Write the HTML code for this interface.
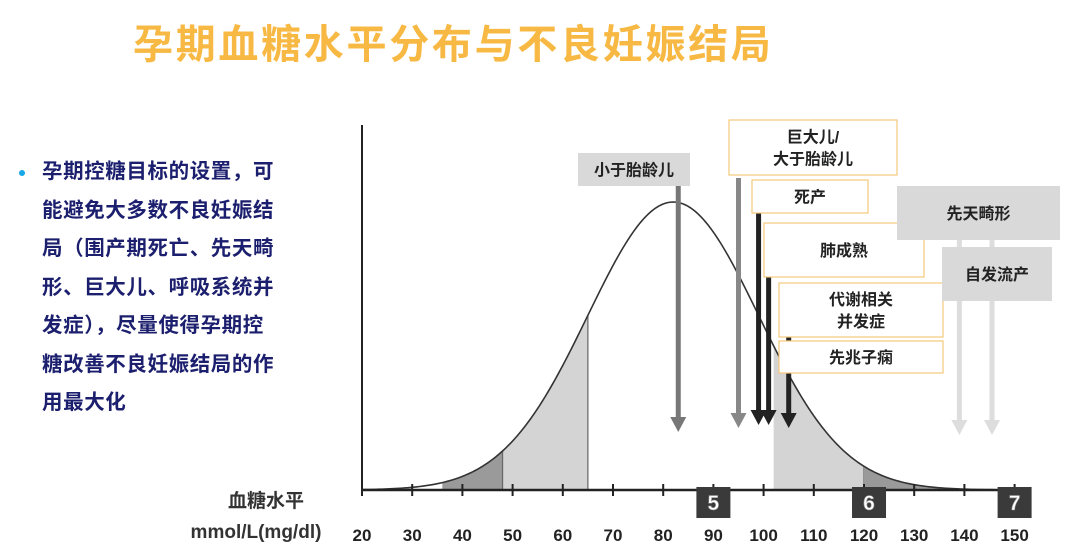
<!DOCTYPE html>
<html><head><meta charset="utf-8">
<style>
body{margin:0;width:1080px;height:557px;background:#fff;overflow:hidden;position:relative;font-family:"Liberation Sans","Noto Sans CJK SC",sans-serif}
#title{position:absolute;left:133px;top:12px;font-size:40px;font-weight:bold;color:#f7b944;letter-spacing:2.7px;white-space:nowrap;font-family:"Liberation Sans","Noto Sans CJK SC",sans-serif}
#bullet-text{position:absolute;left:42px;top:153px;width:260px;font-size:20.5px;line-height:38.5px;font-weight:bold;color:#1b1f6e;white-space:nowrap;letter-spacing:0.6px}
#dot{position:absolute;left:19px;top:170px;width:6px;height:6px;border-radius:3px;background:#18a8e8}
svg{position:absolute;left:0;top:0}
</style></head><body>
<div id="title">孕期血糖水平分布与不良妊娠结局</div>
<div id="dot"></div>
<div id="bullet-text">孕期控糖目标的设置，可<br>能避免大多数不良妊娠结<br>局（围产期死亡、先天畸<br>形、巨大儿、呼吸系统并<br>发症），尽量使得孕期控<br>糖改善不良妊娠结局的作<br>用最大化</div>
<svg id="chart" width="1080" height="557"></svg>
<script>
const ticks=[20,30,40,50,60,70,80,90,100,110,120,130,140,150];
const meanVal=82, sdVal=17;
const shadeDarkLeft=[36,48], shadeLightLeft=[48,65], shadeLightRight=[102,120], shadeDarkRight=[120,138];
const markers=["5","6","7"];
const markerVals=[90,121,150];
const outcomes=["小于胎龄儿","巨大儿/大于胎龄儿","死产","肺成熟","代谢相关并发症","先兆子痫","先天畸形","自发流产"];
const arrowVals=[83,95,99,101,105,139,145.5];

const NS="http://www.w3.org/2000/svg";
const svg=document.getElementById('chart');
const X0=362,Y0=490,PX=5.02,H=288;
const xs=v=>X0+(v-20)*PX;
const ys=v=>Y0-H*Math.exp(-((v-meanVal)**2)/(2*sdVal*sdVal));
function el(t,a,p){const e=document.createElementNS(NS,t);for(const k in a)e.setAttribute(k,a[k]);(p||svg).appendChild(e);return e;}
function area(r,fill,name){let d=`M${xs(r[0])},${Y0}`;for(let v=r[0];v<=r[1]+1e-6;v+=0.5)d+=`L${xs(v)},${ys(v)}`;d+=`L${xs(r[1])},${Y0}Z`;
 const e=el('path',{d,fill,stroke:'none'});
 el('line',{x1:xs(r[1]),x2:xs(r[1]),y1:Y0,y2:ys(r[1]),stroke:'#666','stroke-width':1.2});}
area(shadeLightLeft,'#d4d4d4','shade-light-left');
area(shadeDarkLeft,'#9a9a9a','shade-dark-left');
area(shadeLightRight,'#d4d4d4','shade-light-right');
area(shadeDarkRight,'#9a9a9a','shade-dark-right');
let d='';for(let v=20;v<=150;v+=0.5)d+=(d?'L':'M')+xs(v)+','+ys(v);
const curve=el('path',{d,fill:'none',stroke:'#333','stroke-width':1.6});


const ya=el('line',{x1:X0,x2:X0,y1:125,y2:Y0,stroke:'#222','stroke-width':2});

const xa=el('line',{x1:X0,x2:xs(152),y1:Y0,y2:Y0,stroke:'#222','stroke-width':2.5});

ticks.forEach(t=>{
 el('line',{x1:xs(t),x2:xs(t),y1:Y0-6,y2:Y0+6,stroke:'#222','stroke-width':2});
 const tx=el('text',{x:xs(t),y:541,'text-anchor':'middle','font-size':17,'font-weight':'bold',fill:'#222'});tx.textContent=t;
 
});
markers.forEach((m,i)=>{
 const c=xs(markerVals[i]);
 const g=el('g',{});
 el('rect',{x:c-17,y:487,width:34,height:31,fill:'#3a3a3a'},g);
 const t=el('text',{x:c,y:510,'text-anchor':'middle','font-size':21,'font-weight':'bold',fill:'#fff',stroke:'#888','stroke-width':0.6},g);t.textContent=m;
});
const arrowTop=[186,178,213,277,337,240,240];
const arrowCol=['#777','#888','#222','#222','#222','#ddd','#ddd'];
const arrowEnd=[432,428,425,425,428,435,435];
arrowVals.forEach((v,i)=>{
 const x=xs(v);const g=el('g',{});
 
 el('line',{x1:x,x2:x,y1:arrowTop[i],y2:arrowEnd[i]-12,stroke:arrowCol[i],'stroke-width':5},g);
 el('polygon',{points:`${x-8},${arrowEnd[i]-15} ${x+8},${arrowEnd[i]-15} ${x},${arrowEnd[i]}`,fill:arrowCol[i]},g);
});
const boxes=[[578,153,112,33,'#d9d9d9','none'],[729,120,168,55,'#fff','#f5c77a'],[752,180,116,33,'#fff','#f5c77a'],[764,223,160,54,'#fff','#f5c77a'],[779,283,164,54,'#fff','#f5c77a'],[779,341,164,32,'#fff','#f5c77a'],[897,186,163,54,'#d9d9d9','none'],[942,247,110,54,'#d9d9d9','none']];
outcomes.forEach((o,i)=>{
 const b=boxes[i];const g=el('g',{});
 
 el('rect',{x:b[0],y:b[1],width:b[2],height:b[3],fill:b[4],stroke:b[5],'stroke-width':1.2},g);
 let lines=[o];
 if(o==='巨大儿/大于胎龄儿')lines=['巨大儿/','大于胎龄儿'];
 if(o==='代谢相关并发症')lines=['代谢相关','并发症'];
 const cx=b[0]+b[2]/2,cy=b[1]+b[3]/2;
 lines.forEach((l,j)=>{const t=el('text',{x:cx,y:cy+6+(j-(lines.length-1)/2)*22,'text-anchor':'middle','font-size':16,'font-weight':'bold',fill:'#222'},g);t.textContent=l;});
});
const l1=el('text',{x:266,y:507,'text-anchor':'middle','font-size':19,'font-weight':'bold',fill:'#333'});l1.textContent='血糖水平';

const l2=el('text',{x:256,y:538,'text-anchor':'middle','font-size':19,'font-weight':'bold',fill:'#333'});l2.textContent='mmol/L(mg/dl)';

</script>
</body></html>
